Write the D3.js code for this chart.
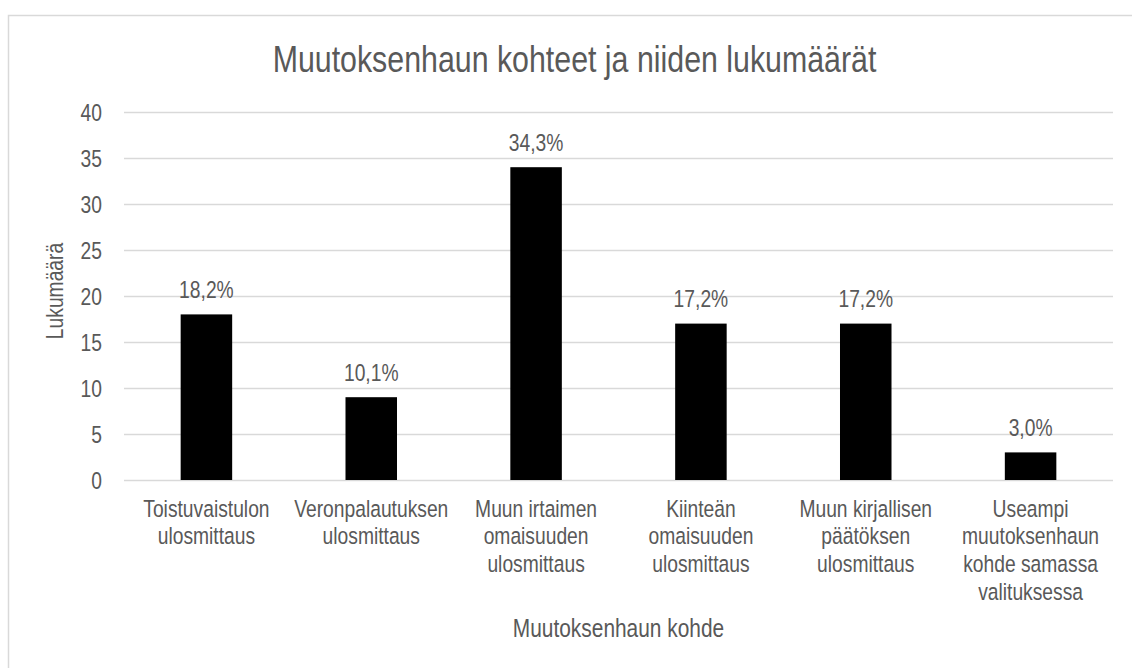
<html><head>
<title>Muutoksenhaun kohteet</title>
<script src="https://d3js.org/d3.v7.min.js"></script>
<style>
  body { margin: 0; background: #fff; }
  svg text { font-family: "Liberation Sans", Arial, sans-serif; fill: #595959; }
  .y.axis .domain { display: none; }
  .y.axis line { stroke: #d9d9d9; stroke-width: 1.5; }
</style>
</head>
<body>
<svg id="chart" width="1132" height="668"></svg>
<script>
// data
const categories = [
  ["Toistuvaistulon", "ulosmittaus"],
  ["Veronpalautuksen", "ulosmittaus"],
  ["Muun irtaimen", "omaisuuden", "ulosmittaus"],
  ["Kiinteän", "omaisuuden", "ulosmittaus"],
  ["Muun kirjallisen", "päätöksen", "ulosmittaus"],
  ["Useampi", "muutoksenhaun", "kohde samassa", "valituksessa"]
];
const values = [18, 9, 34, 17, 17, 3];
const pctLabels = ["18,2%", "10,1%", "34,3%", "17,2%", "17,2%", "3,0%"];
const yTicks = [0, 5, 10, 15, 20, 25, 30, 35, 40];

// no Arial Narrow here, so squeeze Liberation Sans horizontally
const squeeze = 0.82;
function at(x, y) { return "translate(" + x + "," + y + ") scale(" + squeeze + ",1)"; }

let svg = d3.select("svg#chart");
let margin = { top: 112, right: 19, bottom: 188, left: 124 };
let chartWidth = svg.attr("width") - margin.left - margin.right;
let chartHeight = svg.attr("height") - margin.top - margin.bottom;

// chart border (runs off the right and bottom edge like in the picture)
svg.append("rect")
  .attr("x", 8.5).attr("y", 15.5)
  .attr("width", 1140).attr("height", 700)
  .attr("fill", "none").attr("stroke", "#d9d9d9").attr("stroke-width", 1.5);

svg.append("text")
  .attr("transform", at(574.5, 72))
  .attr("text-anchor", "middle")
  .style("font-size", "37px")
  .text("Muutoksenhaun kohteet ja niiden lukumäärät");

let plot = svg.append("g")
  .attr("transform", "translate(" + margin.left + "," + margin.top + ")");

const xScale = d3.scaleBand().domain(d3.range(values.length)).range([0, chartWidth]);
const yScale = d3.scaleLinear().domain([0, 40]).range([chartHeight, 0]);

// gridlines + tick labels
let yAxis = d3.axisLeft(yScale).tickValues(yTicks).tickSize(-chartWidth);
plot.append("g").attr("class", "y axis").call(yAxis)
  .selectAll("text")
  .attr("x", null).attr("dy", null)
  .attr("transform", at(-22, 8.5))
  .style("font-size", "23.5px").attr("fill", "#595959");

const barW = xScale.bandwidth() * 0.3125;

plot.selectAll("rect.bar").data(values).join("rect")
  .attr("class", "bar")
  .attr("x", (d, i) => xScale(i) + xScale.bandwidth() / 2 - barW / 2)
  .attr("y", d => yScale(d))
  .attr("width", barW)
  .attr("height", d => chartHeight - yScale(d))
  .attr("fill", "#000");

plot.selectAll("text.val").data(values).join("text")
  .attr("class", "val")
  .attr("transform", (d, i) => at(xScale(i) + xScale.bandwidth() / 2, yScale(d) - 16.5))
  .attr("text-anchor", "middle")
  .style("font-size", "23.5px")
  .text((d, i) => pctLabels[i]);

// category labels, several lines each
let cats = plot.selectAll("text.cat").data(categories).join("text")
  .attr("class", "cat")
  .attr("text-anchor", "middle")
  .style("font-size", "23.5px")
  .attr("transform", (d, i) => at(xScale(i) + xScale.bandwidth() / 2, chartHeight + 36.7));
cats.selectAll("tspan").data(d => d).join("tspan")
  .attr("x", 0)
  .attr("y", (d, j) => j * 27.7)
  .text(d => d);

// axis titles
svg.append("text")
  .attr("transform", at(margin.left + chartWidth / 2, 637))
  .attr("text-anchor", "middle")
  .style("font-size", "25.5px")
  .text("Muutoksenhaun kohde");

svg.append("text")
  .attr("transform", "translate(63,291) rotate(-90) scale(" + squeeze + ",1)")
  .attr("text-anchor", "middle")
  .style("font-size", "23.5px")
  .text("Lukumäärä");
</script>
</body>
</html>
